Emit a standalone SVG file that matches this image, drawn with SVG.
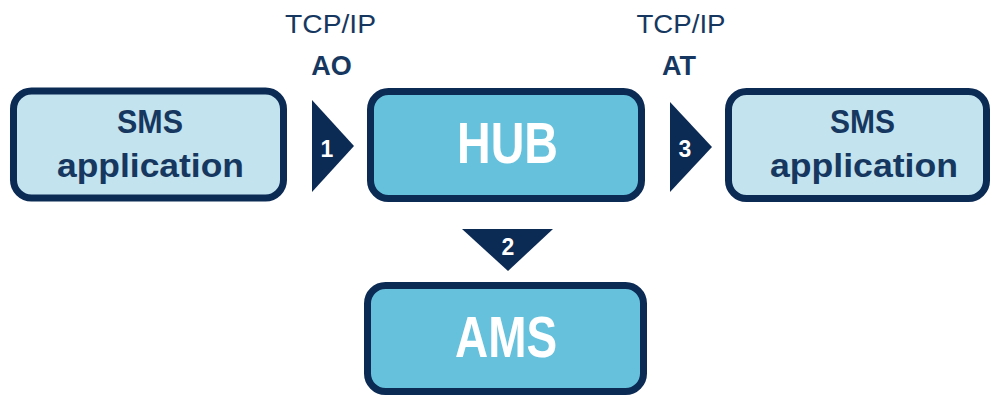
<svg xmlns="http://www.w3.org/2000/svg" width="991" height="396" viewBox="0 0 991 396">
<style>
.box{stroke:#0b2a54;stroke-width:7}
.light{fill:#c3e3ee}
.mid{fill:#66c1dc}
.arr{fill:#0b2a54}
.dark{font-family:"Liberation Sans",Arial,sans-serif;font-weight:bold;fill:#163860;text-anchor:middle}
.white{font-family:"Liberation Sans",Arial,sans-serif;font-weight:bold;fill:#ffffff;text-anchor:middle}
.proto{font-family:"Liberation Sans",Arial,sans-serif;fill:#163860;text-anchor:middle;font-size:26px}
.num{font-family:"Liberation Sans",Arial,sans-serif;font-weight:bold;fill:#ffffff;text-anchor:middle;font-size:23px}
</style>
<rect width="991" height="396" fill="#ffffff"/>
<g id="sms-left">
<rect class="box light" x="13.5" y="91" width="270" height="107" rx="18"/>
<text class="dark" x="150" y="133" font-size="34" textLength="66" lengthAdjust="spacingAndGlyphs">SMS</text>
<text class="dark" x="150.5" y="177" font-size="34" textLength="187" lengthAdjust="spacingAndGlyphs">application</text>
</g>
<g id="hub">
<rect class="box mid" x="370.5" y="91.5" width="271" height="107" rx="18"/>
<text class="white" x="507.5" y="163" font-size="57" textLength="101" lengthAdjust="spacingAndGlyphs">HUB</text>
</g>
<g id="sms-right">
<rect class="box light" x="728.5" y="91.5" width="258" height="107" rx="18"/>
<text class="dark" x="862.5" y="133" font-size="34" textLength="65" lengthAdjust="spacingAndGlyphs">SMS</text>
<text class="dark" x="864" y="177" font-size="34" textLength="188" lengthAdjust="spacingAndGlyphs">application</text>
</g>
<g id="ams">
<rect class="box mid" x="367.5" y="285.5" width="276" height="106" rx="18"/>
<text class="white" x="506" y="357" font-size="57" textLength="102" lengthAdjust="spacingAndGlyphs">AMS</text>
</g>
<g id="connectors">
<polygon class="arr" points="312,100 354,146 312,192"/>
<text class="num" x="327" y="157">1</text>
<polygon class="arr" points="670,102 712,147 670,192"/>
<text class="num" x="685" y="157">3</text>
<polygon class="arr" points="462,229 553,229 508,271"/>
<text class="num" x="508" y="255">2</text>
<text class="proto" x="330.5" y="33" textLength="91" lengthAdjust="spacingAndGlyphs">TCP/IP</text>
<text class="dark" x="331.5" y="75" font-size="27">AO</text>
<text class="proto" x="681" y="33" textLength="89" lengthAdjust="spacingAndGlyphs">TCP/IP</text>
<text class="dark" x="679" y="75" font-size="27">AT</text>
</g>
</svg>
